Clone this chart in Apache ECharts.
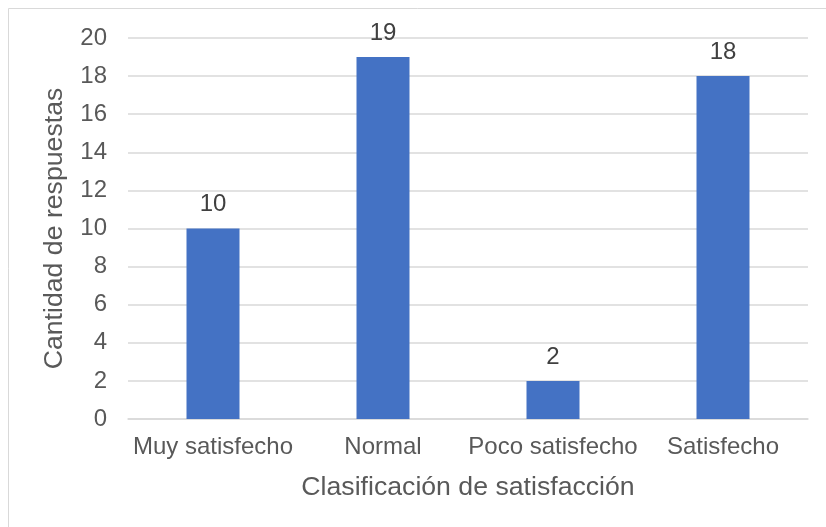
<!DOCTYPE html>
<html>
<head>
<meta charset="utf-8">
<script src="https://cdn.jsdelivr.net/npm/echarts@6/dist/echarts.min.js"></script>
<style>
html,body{margin:0;padding:0;background:#fff;}
#chart{width:826px;height:527px;}
</style>
</head>
<body>
<div id="chart"></div>
<script>
const categories = ['Muy satisfecho', 'Normal', 'Poco satisfecho', 'Satisfecho'];
const values = [10, 19, 2, 18];
const xAxisTitle = 'Clasificación de satisfacción';
const yAxisTitle = 'Cantidad de respuestas';

const FONT = '"Liberation Sans", Arial, sans-serif';
const TXT = '#595959';
const chart = echarts.init(document.getElementById('chart'), null, {renderer: 'canvas'});
chart.setOption({
  backgroundColor: '#ffffff',
  animation: false,
  graphic: [{
    type: 'rect',
    shape: {x: 8.5, y: 8.5, width: 840, height: 540},
    style: {fill: 'none', stroke: '#D9D9D9', lineWidth: 1},
    silent: true,
    z: -10
  }],
  grid: {left: 128, right: 18, top: 38, bottom: 108},
  xAxis: {
    type: 'category',
    data: categories,
    name: xAxisTitle,
    nameLocation: 'middle',
    nameGap: 55,
    nameTextStyle: {color: TXT, fontSize: 26.67, fontFamily: FONT},
    axisLine: {show: true, lineStyle: {color: '#D9D9D9', width: 1.5}},
    axisTick: {show: false},
    axisLabel: {color: TXT, fontSize: 24, fontFamily: FONT, margin: 16, interval: 0}
  },
  yAxis: {
    type: 'value',
    min: 0,
    max: 20,
    interval: 2,
    name: yAxisTitle,
    nameLocation: 'middle',
    nameGap: 60,
    nameTextStyle: {color: TXT, fontSize: 26.67, fontFamily: FONT},
    axisLine: {show: false},
    axisTick: {show: false},
    axisLabel: {color: TXT, fontSize: 24, fontFamily: FONT, margin: 21},
    splitLine: {lineStyle: {color: '#D9D9D9', width: 1.5}}
  },
  series: [{
    type: 'bar',
    data: values,
    barWidth: 53,
    itemStyle: {color: '#4472C4'},
    label: {show: true, position: 'top', distance: 12, color: '#404040', fontSize: 24, fontFamily: FONT}
  }]
});
</script>
</body>
</html>
